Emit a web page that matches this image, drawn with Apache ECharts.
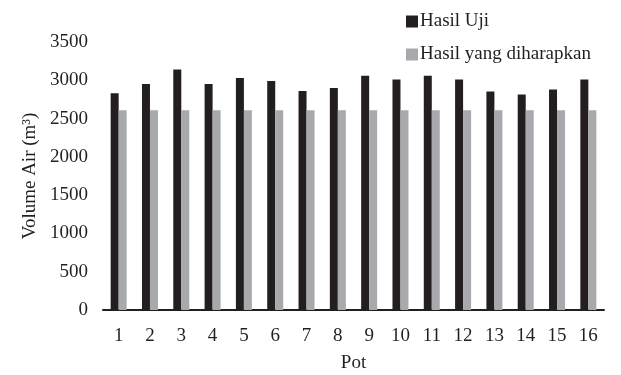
<!DOCTYPE html>
<html>
<head>
<meta charset="utf-8">
<script src="https://cdn.jsdelivr.net/npm/echarts@6/dist/echarts.min.js"></script>
<style>html,body{margin:0;padding:0;background:#fff}#c{width:621px;height:375px}</style>
</head>
<body>
<div id="c"></div>
<script>
const categories = ['1','2','3','4','5','6','7','8','9','10','11','12','13','14','15','16'];
const hasilUji = [2830, 2950, 3140, 2950, 3030, 2990, 2860, 2900, 3060, 3010, 3060, 3010, 2855, 2815, 2880, 3010];
const hasilHarapan = [2610, 2610, 2610, 2610, 2610, 2610, 2610, 2610, 2610, 2610, 2610, 2610, 2610, 2610, 2610, 2610];
const seriesNames = ['Hasil Uji', 'Hasil yang diharapkan'];
const yTicks = { min: 0, max: 3500, interval: 500 };

const font = 'Liberation Serif';
const fs = 19;
const chart = echarts.init(document.getElementById('c'), null, {renderer: 'canvas'});
chart.setOption({
  animation: false,
  textStyle: { fontFamily: font },
  legend: {
    orient: 'vertical',
    left: 401, top: 7,
    itemWidth: 12, itemHeight: 12, itemGap: 14,
    icon: 'rect',
    textStyle: { fontFamily: font, fontSize: fs, color: '#231f20', padding: [0,0,0,-3] },
    data: seriesNames
  },
  grid: { left: 103, right: 17, top: 42, bottom: 65, containLabel: false, outerBoundsMode: 'none' },
  xAxis: {
    type: 'category',
    data: categories,
    name: 'Pot',
    nameLocation: 'middle',
    nameGap: 44,
    nameTextStyle: { fontFamily: font, fontSize: fs, color: '#231f20' },
    axisLine: { lineStyle: { color: '#231f20', width: 2 } },
    axisTick: { show: false },
    axisLabel: { fontFamily: font, fontSize: fs, color: '#231f20', margin: 17 }
  },
  yAxis: {
    type: 'value',
    min: yTicks.min, max: yTicks.max, interval: yTicks.interval,
    name: 'Volume Air (m³)',
    nameLocation: 'middle',
    nameRotate: 90,
    nameGap: 62,
    nameTextStyle: { fontFamily: font, fontSize: fs, color: '#231f20' },
    axisLine: { show: false },
    axisTick: { show: false },
    splitLine: { show: false },
    axisLabel: { fontFamily: font, fontSize: fs, color: '#231f20', margin: 15, formatter: v => String(v) }
  },
  series: [
    { name: seriesNames[0], type: 'bar', data: hasilUji, barWidth: 8, barGap: '0%', itemStyle: { color: '#231f20' } },
    { name: seriesNames[1], type: 'bar', data: hasilHarapan, barWidth: 8, barGap: '0%', itemStyle: { color: '#a7a9ac' } }
  ]
});
</script>
</body>
</html>
